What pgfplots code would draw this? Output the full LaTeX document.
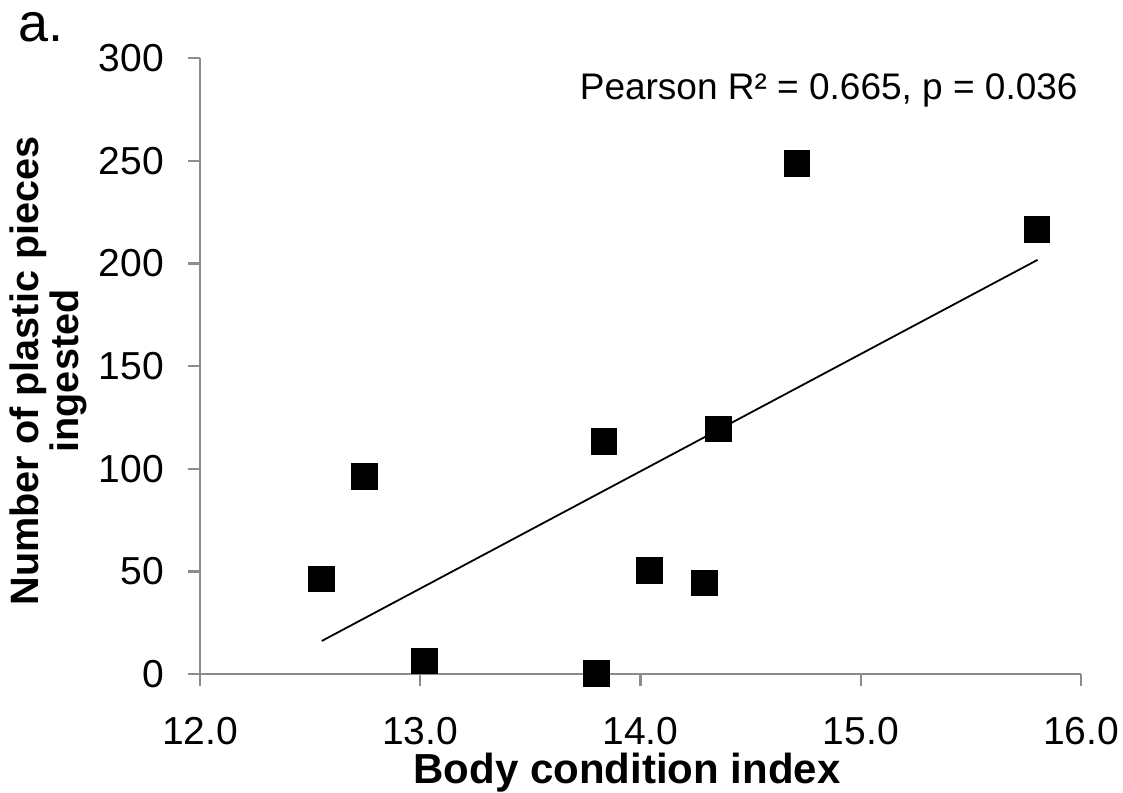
\documentclass[border=0pt]{standalone}
\usepackage{fontspec}
\setmainfont{Liberation Sans}
\usepackage{pgfplots}
\pgfplotsset{compat=1.18}

\pgfplotstableread{
x y
12.55 46.3
12.746 96.2
13.02 6.3
13.80 0.2
13.833 113.4
14.04 50.5
14.29 44.3
14.354 119.5
14.71 248.7
15.80 216.5
}\datatable

\begin{document}
\begin{tikzpicture}
\useasboundingbox (0,0) rectangle (561.5pt,396pt);
\begin{axis}[
  at={(100pt,59pt)}, anchor=south west,
  width=440.5pt, height=307.85pt, scale only axis,
  xmin=12, xmax=16, ymin=0, ymax=300,
  xtick={12,13,14,15,16}, ytick={0,50,...,300},
  axis x line=bottom, axis y line=left,
  axis line style={-, draw=black!45, line width=1.2pt},
  tick style={draw=black!45, line width=1.2pt},
  major tick length=6pt, tick align=outside,
  clip=false,
  ticklabel style={font=\fontsize{19.5}{20}\selectfont, text=black},
  /pgf/number format/assume math mode=true,
  xticklabel style={/pgf/number format/.cd, fixed, fixed zerofill, precision=1, /tikz/.cd, yshift=-12pt},
  yticklabel style={xshift=-8.5pt},
  xlabel={Body condition index},
  xlabel style={font=\bfseries\fontsize{21}{24}\selectfont, at={(rel axis cs:0.4847,0)}, anchor=base, yshift=-54.5pt, inner sep=0pt},
]
\addplot[black, line width=0.9pt] coordinates {(12.553,16.1) (15.803,201.8)};
\addplot[only marks, mark=square*, mark size=6.4pt, mark options={draw=black, fill=black, line width=0.4pt}] table[x=x, y=y] {\datatable};
\end{axis}
\node[anchor=base east, font=\fontsize{18.5}{20}\selectfont, inner sep=0pt] at (539pt,346pt) {Pearson R² = 0.665, p = 0.036};
\node[anchor=base west, font=\fontsize{27}{30}\selectfont, inner sep=0pt] at (9pt,375pt) {a.};
\node[rotate=90, align=center, font=\bfseries\fontsize{19.8}{20}\selectfont] at (24pt,210.5pt) {Number of plastic pieces\\ingested};
\end{tikzpicture}
\end{document}
